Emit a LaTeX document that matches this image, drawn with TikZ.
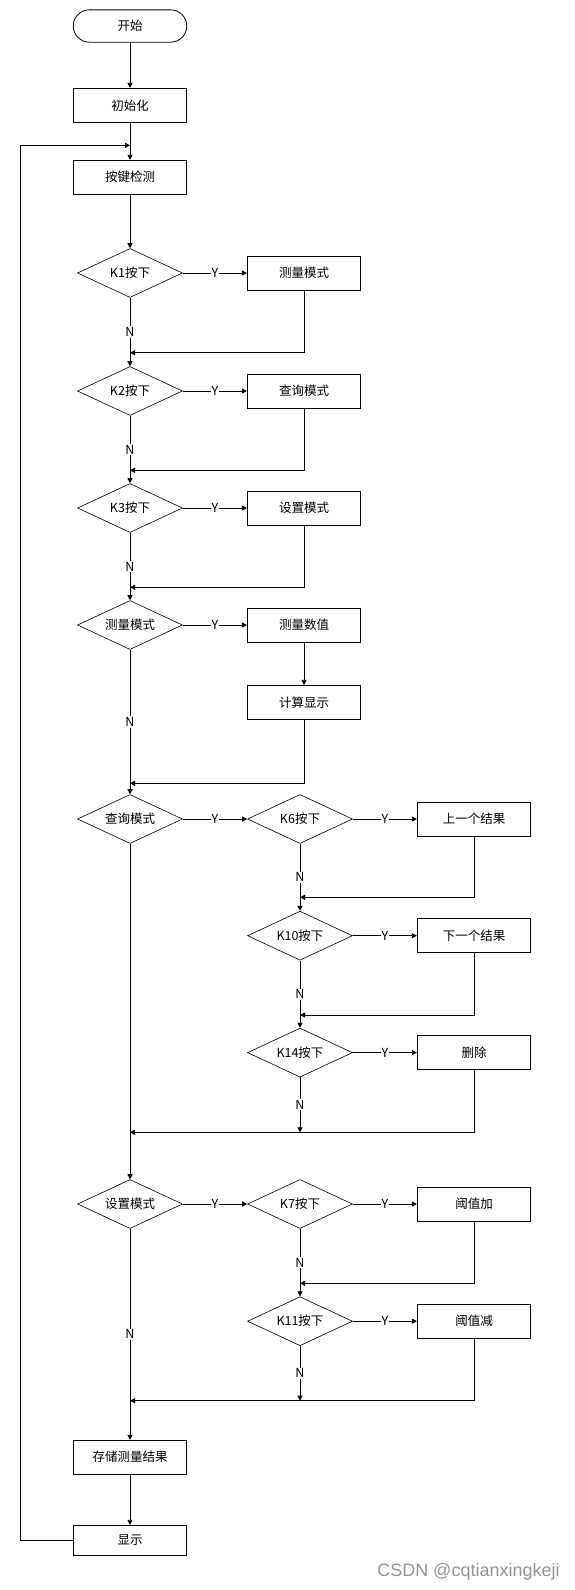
\documentclass[tikz,border=0pt]{standalone}
\usepackage{fontspec}
\setmainfont{Noto Sans CJK SC}
\newfontfamily\markfont{Liberation Sans}
\usetikzlibrary{shapes.geometric,arrows.meta}
\tikzset{
  term/.style={draw,rectangle,rounded corners=16pt,minimum width=113.4pt,minimum height=32.3pt},
  proc/.style={draw,rectangle,minimum width=113.4pt,minimum height=34pt},
  decide/.style={draw,diamond,aspect=2,inner sep=0pt,line width=0.6pt,minimum width=105pt,minimum height=49pt},
  line/.style={line width=0.8pt,-{Triangle[length=5pt,width=5pt]}},
  lbl/.style={fill=white,inner sep=1pt},
}

\begin{document}
\begin{tikzpicture}[x=1pt,y=-1pt,font=\fontsize{12.5}{14}\selectfont,line width=0.8pt]
  \useasboundingbox (0,0) rectangle (574,1590);
  % main column
  \node[term] (start) at (130,26) {开始};
  \node[proc] (init) at (130,105.3) {初始化};
  \node[proc] (scan) at (130,177.2) {按键检测};
  \node[decide] (k1) at (130,273) {K1按下};
  \node[proc] (meas) at (304,273) {测量模式};
  \node[decide] (k2) at (130,391) {K2按下};
  \node[proc] (query) at (304,391) {查询模式};
  \node[decide] (k3) at (130,508) {K3按下};
  \node[proc] (set) at (304,508) {设置模式};
  \node[decide] (ismeas) at (130,625) {测量模式};
  \node[proc] (getval) at (304,625) {测量数值};
  \node[proc] (calc) at (304,702.3) {计算显示};
  % query branch
  \node[decide] (isquery) at (130,819) {查询模式};
  \node[decide] (k6) at (300,819) {K6按下};
  \node[proc] (prev) at (474,819) {上一个结果};
  \node[decide] (k10) at (300,935.7) {K10按下};
  \node[proc] (next) at (474,935.7) {下一个结果};
  \node[decide] (k14) at (300,1052.6) {K14按下};
  \node[proc] (del) at (474,1052.6) {删除};
  % setting branch
  \node[decide] (isset) at (130,1204) {设置模式};
  \node[decide] (k7) at (300,1204) {K7按下};
  \node[proc] (up) at (474,1204) {阈值加};
  \node[decide] (k11) at (300,1321.2) {K11按下};
  \node[proc] (down) at (474,1321.2) {阈值减};
  \node[proc] (save) at (130,1457.2) {存储测量结果};
  \node[proc,minimum height=30pt] (disp) at (130,1540.3) {显示};
  \node[font=\markfont\fontsize{18}{20}\selectfont,text=black!42,anchor=east,inner sep=0pt] (mark) at (560,1571.7) {CSDN @cqtianxingkeji};

  % junctions
  \coordinate (j0) at (130,145.3);
  \coordinate (j1) at (130,352.7);
  \coordinate (j2) at (130,470.3);
  \coordinate (j3) at (130,587.3);
  \coordinate (j4) at (130,783.3);
  \coordinate (j5) at (300,897.3);
  \coordinate (j6) at (300,1015);
  \coordinate (j7) at (130,1132.3);
  \coordinate (j7k) at (300,1132.3);
  \coordinate (j8) at (300,1283.3);
  \coordinate (j9) at (130,1400.7);
  \coordinate (j9k) at (300,1400.7);
  \coordinate (lp) at (20.7,145.3);

  \draw[line] (start) -- (init);
  \draw[line] (init) -- (scan);
  \draw[line] (scan) -- (k1);
  \draw[line] (k1) -- node[lbl]{Y} (meas);
  \draw[line] (k1) -- node[lbl]{N} (k2);
  \draw[line] (meas) |- (j1);
  \draw[line] (k2) -- node[lbl]{Y} (query);
  \draw[line] (k2) -- node[lbl]{N} (k3);
  \draw[line] (query) |- (j2);
  \draw[line] (k3) -- node[lbl]{Y} (set);
  \draw[line] (k3) -- node[lbl]{N} (ismeas);
  \draw[line] (set) |- (j3);
  \draw[line] (ismeas) -- node[lbl]{Y} (getval);
  \draw[line] (getval) -- (calc);
  \draw[line] (ismeas) -- node[lbl]{N} (isquery);
  \draw[line] (calc) |- (j4);
  % query branch
  \draw[line] (isquery) -- node[lbl]{Y} (k6);
  \draw[line] (k6) -- node[lbl]{Y} (prev);
  \draw[line] (k6) -- node[lbl]{N} (k10);
  \draw[line] (prev) |- (j5);
  \draw[line] (k10) -- node[lbl]{Y} (next);
  \draw[line] (k10) -- node[lbl]{N} (k14);
  \draw[line] (next) |- (j6);
  \draw[line] (k14) -- node[lbl]{Y} (del);
  \draw[line] (k14) -- node[lbl]{N} (j7k);
  \draw[line] (del) |- (j7);
  \draw[line] (isquery) -- (isset);
  % setting branch
  \draw[line] (isset) -- node[lbl]{Y} (k7);
  \draw[line] (k7) -- node[lbl]{Y} (up);
  \draw[line] (k7) -- node[lbl]{N} (k11);
  \draw[line] (up) |- (j8);
  \draw[line] (k11) -- node[lbl]{Y} (down);
  \draw[line] (k11) -- node[lbl]{N} (j9k);
  \draw[line] (down) |- (j9);
  \draw[line] (isset) -- node[lbl]{N} (save);
  \draw[line] (save) -- (disp);
  \draw[line] (disp.west) -| (lp) -- (j0);
\end{tikzpicture}
\end{document}
